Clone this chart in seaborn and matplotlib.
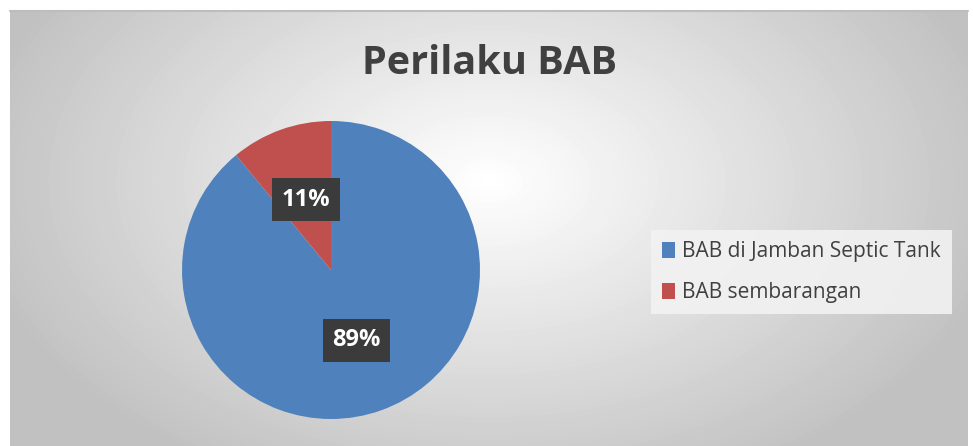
import numpy as np
import matplotlib.pyplot as plt
import seaborn as sns

categories = ['BAB di Jamban Septic Tank', 'BAB sembarangan']
values = [89, 11]
colors = ['#4F81BD', '#C0504D']
title = 'Perilaku BAB'

sns.set_theme(style='white')
plt.rcParams['font.family'] = ['Open Sans', 'DejaVu Sans']

fig = plt.figure(figsize=(9.73, 4.46), dpi=100)
fig.patch.set_facecolor('white')

# chart area background: radial gradient, light in the middle, grey at edges
bg = fig.add_axes([10 / 973, 0, 958 / 973, 435 / 446])
yy, xx = np.mgrid[0:435, 0:958]
d = np.sqrt(((xx - 479) / 520.0) ** 2 + ((yy - 170) / 330.0) ** 2)
shade = np.clip(1.0 - 0.24 * d, 0.76, 1.0)
bg.imshow(shade, cmap='gray', vmin=0, vmax=1, aspect='auto',
          extent=[0, 1, 0, 1], origin='upper', interpolation='bilinear')
bg.set_xlim(0, 1)
bg.set_ylim(0, 1)
bg.axis('off')
bg.plot([0, 1], [1, 1], color='#bdbdbd', lw=1.5, transform=bg.transAxes, clip_on=False)

fig.text(490 / 973, 1 - 63 / 446, title, ha='center', va='center',
         fontsize=28.5, fontweight='bold', color='#404040')

ax = fig.add_axes([182 / 973, 27 / 446, 298 / 973, 298 / 446])
wedges, texts, autotexts = ax.pie(
    values, colors=colors, startangle=90, counterclock=False,
    autopct='%d%%', pctdistance=0.5,
    wedgeprops=dict(linewidth=0),
    textprops=dict(color='white', fontsize=17, fontweight='bold'))
for t in autotexts:
    t.set_bbox(dict(boxstyle='square,pad=0.4', facecolor='#3b3b3b', edgecolor='none'))
ax.set_xlim(-1, 1)
ax.set_ylim(-1, 1)
ax.set_aspect('equal')

leg = fig.legend(wedges, categories, loc='center left',
                 bbox_to_anchor=(651 / 973, 1 - 272 / 446), borderaxespad=0,
                 frameon=True, fancybox=False, fontsize=15,
                 handlelength=0.6, handleheight=0.8, handletextpad=0.35,
                 labelspacing=0.95, borderpad=0.55, labelcolor='#404040')
leg.get_frame().set_facecolor('#f2f2f2')
leg.get_frame().set_edgecolor('none')
leg.get_frame().set_alpha(0.9)

fig.savefig('out.png', dpi=100)
